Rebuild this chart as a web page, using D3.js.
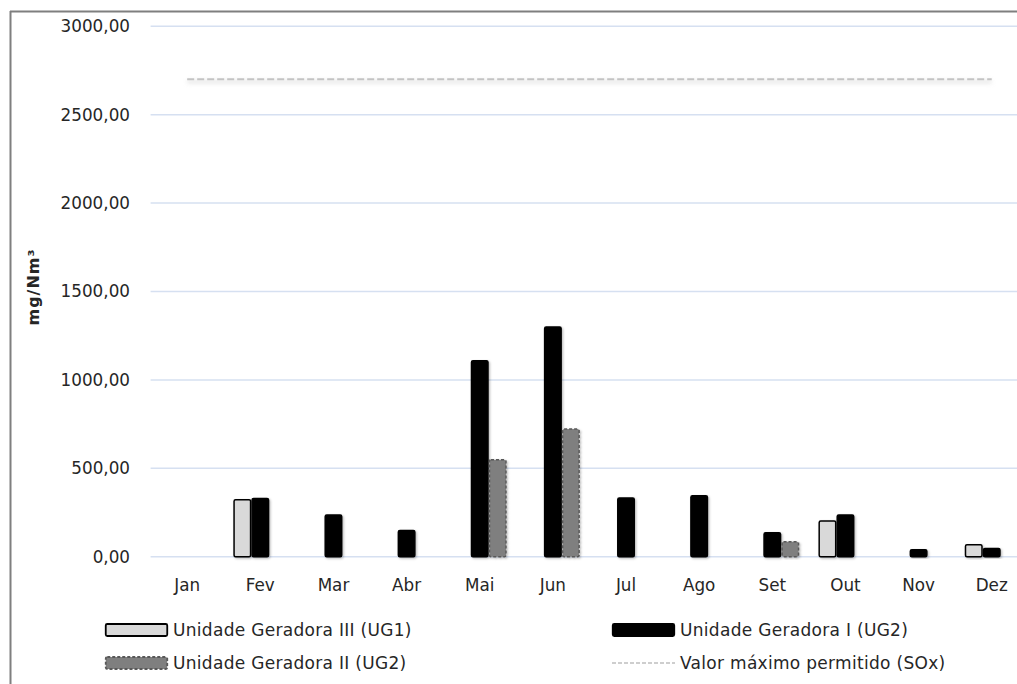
<!DOCTYPE html>
<html>
<head>
<meta charset="utf-8">
<script src="https://cdn.jsdelivr.net/npm/d3@7"></script>
<style>
  html, body { margin: 0; padding: 0; background: #fff; }
  svg { display: block; }
  text { font-family: "DejaVu Sans", "Noto Sans", sans-serif; fill: #262626; }
</style>
</head>
<body>
<svg id="chart" width="1017" height="684"></svg>
<script>
// Monthly SOx concentrations per generating unit (mg/Nm³)
const months = ["Jan", "Fev", "Mar", "Abr", "Mai", "Jun", "Jul", "Ago", "Set", "Out", "Nov", "Dez"];
const ugIII = [null, 326, null, null, null, null, null, null, null, 206, null, 72];
const ugI   = [null, 334, 240, 153, 1113, 1303, 336, 349, 140, 240, 44, 51];
const ugII  = [null, null, null, null, 553, 726, null, null, 89, null, null, null];
const limitSOx = [2700, 2700, 2700, 2700, 2700, 2700, 2700, 2700, 2700, 2700, 2700, 2700];
const yTicks = [0, 500, 1000, 1500, 2000, 2500, 3000];

const seriesNames = ["Unidade Geradora III (UG1)", "Unidade Geradora I (UG2)", "Unidade Geradora II (UG2)", "Valor máximo permitido (SOx)"];

const FONT = "'DejaVu Sans', sans-serif";
const svg = d3.select("#chart");

const defs = svg.append("defs");
const shadow = defs.append("filter").attr("id", "barShadow")
  .attr("x", "-30%").attr("y", "-10%").attr("width", "160%").attr("height", "130%");
shadow.append("feDropShadow").attr("dx", 1.2).attr("dy", 1.2).attr("stdDeviation", 1.1)
  .attr("flood-color", "#000").attr("flood-opacity", 0.28);
const soft = defs.append("filter").attr("id", "softLine")
  .attr("filterUnits", "userSpaceOnUse")
  .attr("x", 0).attr("y", 0).attr("width", 1017).attr("height", 684);
soft.append("feGaussianBlur").attr("stdDeviation", 2);

// Frame lines along top and left
svg.append("line").attr("x1", 10).attr("x2", 1017).attr("y1", 11.5).attr("y2", 11.5)
  .attr("stroke", "#7f7f7f").attr("stroke-width", 2);
svg.append("line").attr("x1", 10.5).attr("x2", 10.5).attr("y1", 11).attr("y2", 684)
  .attr("stroke", "#7f7f7f").attr("stroke-width", 2);

const x0 = d3.scaleBand().domain(months).range([150.6, 1028.3])
  .paddingInner(0.262).paddingOuter(0.131);
const keys = ["ugIII", "ugI", "ugII"];
const x1 = d3.scaleBand().domain(keys).range([0, x0.bandwidth()]);
const y = d3.scaleLinear().domain([0, 3000]).range([556.7, 26.3]);

// Value labels and gridlines
const yAxis = d3.axisLeft(y).tickValues(yTicks).tickSize(0).tickPadding(0)
  .tickFormat(d => d3.format(".2f")(d).replace(".", ","));
const gy = svg.append("g").attr("transform", "translate(130,0)").call(yAxis);
gy.select(".domain").remove();
gy.selectAll("text").attr("font-size", 16.8).attr("fill", "#262626")
  .attr("font-family", FONT);

svg.append("g").selectAll("line").data(yTicks).join("line")
  .attr("x1", 150.6).attr("x2", 1017)
  .attr("y1", d => y(d)).attr("y2", d => y(d))
  .attr("stroke", "#d6e0f1").attr("stroke-width", 1.5);

// Month labels
const xAxis = d3.axisBottom(x0).tickSize(0).tickPadding(0);
const gx = svg.append("g").attr("transform", "translate(0,579)").call(xAxis);
gx.select(".domain").remove();
gx.selectAll("text").attr("font-size", 16.8).attr("fill", "#262626")
  .attr("font-family", FONT);

// Bars
const styles = {
  ugIII: { fill: "#d9d9d9", stroke: "#000", dash: null },
  ugI:   { fill: "#000000", stroke: "#000", dash: null },
  ugII:  { fill: "#7f7f7f", stroke: "#595959", dash: "3,2" }
};
const values = { ugIII, ugI, ugII };
const rows = [];
keys.forEach(k => values[k].forEach((v, i) => {
  if (v != null && v > 0) rows.push({ key: k, month: months[i], value: v });
}));
svg.append("g").selectAll("rect").data(rows).join("rect")
  .attr("x", d => x0(d.month) + x1(d.key) + 0.75)
  .attr("width", x1.bandwidth() - 1.5)
  .attr("y", d => y(d.value) + 0.75)
  .attr("height", d => y(0) - y(d.value) - 0.75)
  .attr("rx", 1.5)
  .attr("fill", d => styles[d.key].fill)
  .attr("stroke", d => styles[d.key].stroke)
  .attr("stroke-width", 1.5)
  .attr("stroke-dasharray", d => styles[d.key].dash)
  .attr("filter", "url(#barShadow)");

// Limit line across category centres, with a soft shadow beneath
const line = d3.line().x((d, i) => x0(months[i]) + x0.bandwidth() / 2).y(d => y(d));
svg.append("path").datum(limitSOx).attr("d", line)
  .attr("transform", "translate(0,2.5)")
  .attr("fill", "none").attr("stroke", "#d0d0d0").attr("stroke-width", 3)
  .attr("opacity", 0.6).attr("filter", "url(#softLine)");
svg.append("path").datum(limitSOx).attr("d", line)
  .attr("fill", "none").attr("stroke", "#c4c4c4").attr("stroke-width", 2)
  .attr("stroke-dasharray", "7,3");

// Y axis title
svg.append("text").attr("transform", "translate(39,287) rotate(-90)")
  .attr("text-anchor", "middle").attr("font-size", 16).attr("font-weight", "bold")
  .attr("letter-spacing", 1).attr("font-family", FONT).attr("fill", "#000").text("mg/Nm³");

// Legend
const legend = svg.append("g");
const legendItems = [
  { name: seriesNames[0], key: "ugIII", x: 105, y: 630 },
  { name: seriesNames[1], key: "ugI", x: 612, y: 630 },
  { name: seriesNames[2], key: "ugII", x: 105, y: 663 },
  { name: seriesNames[3], key: "limit", x: 612, y: 663 }
];
legendItems.forEach(it => {
  if (it.key === "limit") {
    legend.append("line").attr("x1", it.x).attr("x2", it.x + 63)
      .attr("y1", it.y).attr("y2", it.y)
      .attr("stroke", "#bfbfbf").attr("stroke-width", 1.5).attr("stroke-dasharray", "4,2");
  } else {
    const s = styles[it.key];
    legend.append("rect").attr("x", it.x + 0.75).attr("y", it.y - 6)
      .attr("width", 61.5).attr("height", 12).attr("rx", 1.5)
      .attr("fill", s.fill).attr("stroke", s.stroke).attr("stroke-width", 1.8)
      .attr("stroke-dasharray", s.dash);
  }
  legend.append("text").attr("x", it.x + 68).attr("y", it.y + 6)
    .attr("font-size", 17).attr("letter-spacing", 0.3)
    .attr("font-family", FONT).text(it.name);
});
</script>
</body>
</html>
